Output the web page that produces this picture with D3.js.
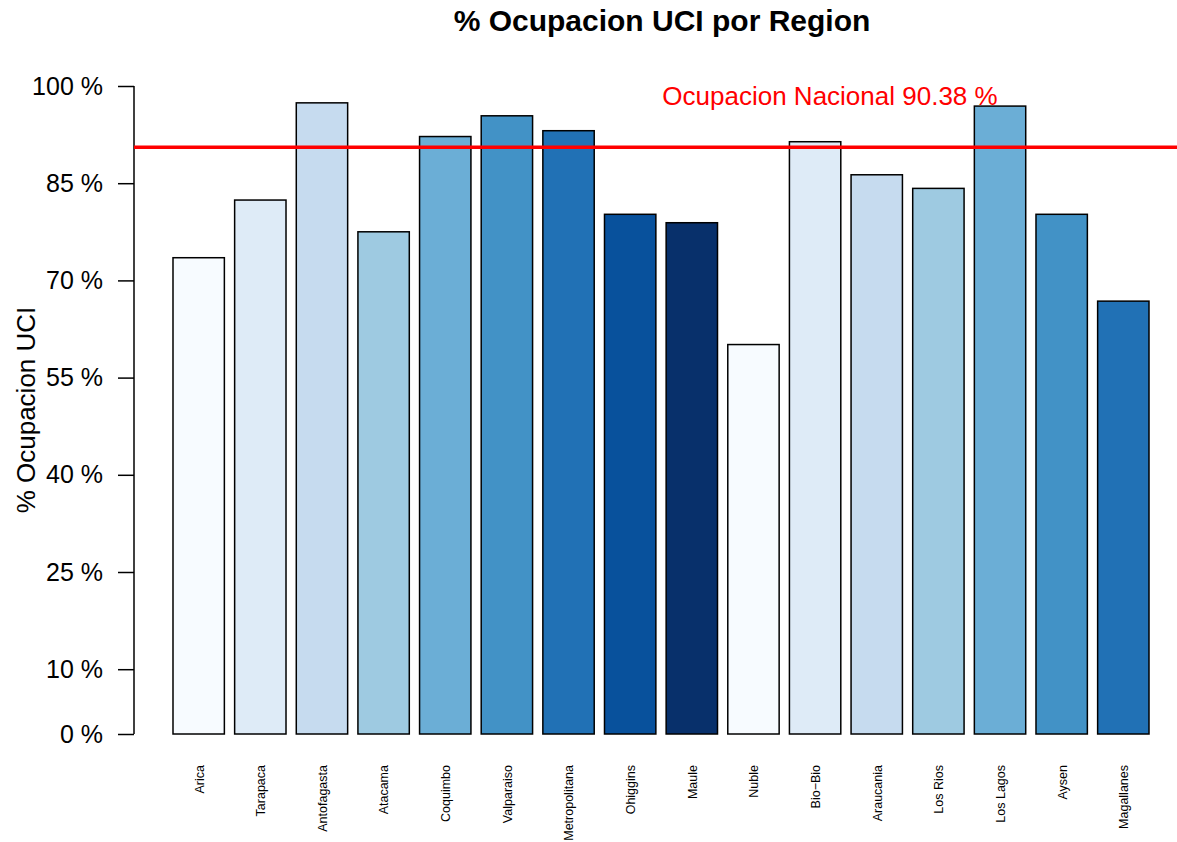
<!DOCTYPE html>
<html>
<head>
<meta charset="utf-8">
<script src="https://cdn.jsdelivr.net/npm/d3@7"></script>
<style>
    body { margin: 0; background: #fff; }
    svg { display: block; font-family: "Liberation Sans", Arial, sans-serif; }
</style>
</head>
<body>
<div class="main_content"></div>
<script>
// Regions and % ICU occupancy
const regions = ['Arica', 'Tarapaca', 'Antofagasta', 'Atacama', 'Coquimbo', 'Valparaiso',
    'Metropolitana', 'Ohiggins', 'Maule', 'Nuble', 'Bio\u2212Bio', 'Araucania',
    'Los Rios', 'Los Lagos', 'Aysen', 'Magallanes'];
const occupancy = [73.5, 82.4, 97.4, 77.5, 92.2, 95.4, 93.1, 80.2, 78.9, 60.1,
    91.4, 86.3, 84.2, 96.9, 80.2, 66.8];
const yTicks = [0, 10, 25, 40, 55, 70, 85, 100];
const nationalValue = 90.38;
// RColorBrewer Blues (9), recycled over the bars
const palette = ['#F7FBFF', '#DEEBF7', '#C6DBEF', '#9ECAE1', '#6BAED6',
    '#4292C6', '#2171B5', '#08519C', '#08306B'];

class BarChart {
    constructor() {
        this.width = 1177;
        this.height = 842;
    }

    render() {
        let div = d3.select('.main_content').append('div').classed('bar_chart', true);

        this.svg = div.append('svg')
            .attr('width', this.width)
            .attr('height', this.height);

        // Scales
        let x = d3.scaleBand()
            .domain(regions)
            .range([167.86, 1154.14])
            .paddingInner(1 / 6)
            .paddingOuter(1 / 12);

        let y = d3.scaleLinear()
            .domain([0, 100])
            .range([734, 86]);

        // Bars
        this.svg.append('g')
            .selectAll('rect')
            .data(regions)
            .join('rect')
            .attr('x', d => x(d))
            .attr('y', (d, i) => y(occupancy[i]))
            .attr('width', x.bandwidth())
            .attr('height', (d, i) => y(0) - y(occupancy[i]))
            .style('fill', (d, i) => palette[i % palette.length])
            .style('stroke', '#000')
            .style('stroke-width', 1.5);

        // Y axis
        let yAxis = d3.axisLeft(y)
            .tickValues(yTicks)
            .tickSize(16)
            .tickPadding(15)
            .tickFormat(d => d + ' %');

        let gy = this.svg.append('g')
            .attr('transform', 'translate(134,0)')
            .call(yAxis);
        gy.select('.domain').attr('d', 'M0,' + y(0) + 'V' + y(100))
            .style('stroke', '#000').style('stroke-width', 1.5);
        gy.selectAll('.tick line').style('stroke', '#000').style('stroke-width', 1.5);
        gy.selectAll('.tick text')
            .style('font-size', '25px')
            .style('font-family', '"Liberation Sans", Arial, sans-serif')
            .style('fill', '#000');

        // X labels (vertical, no axis line)
        this.svg.append('g')
            .selectAll('text')
            .data(regions)
            .join('text')
            .attr('transform', d => 'translate(' + (x(d) + x.bandwidth() / 2 + 0.5) + ',765) rotate(-90)')
            .attr('text-anchor', 'end')
            .attr('dy', '0.35em')
            .style('font-size', '12.5px')
            .text(d => d);

        // National occupancy line
        this.svg.append('line')
            .attr('x1', 134)
            .attr('x2', this.width)
            .attr('y1', y(nationalValue) - 1)
            .attr('y2', y(nationalValue) - 1)
            .style('stroke', '#ff0000')
            .style('stroke-width', 3.5);

        this.svg.append('text')
            .attr('x', 830)
            .attr('y', 105)
            .attr('text-anchor', 'middle')
            .style('font-size', '26px')
            .style('fill', '#ff0000')
            .text('Ocupacion Nacional ' + nationalValue + ' %');

        // Titles
        this.svg.append('text')
            .attr('x', 662)
            .attr('y', 31)
            .attr('text-anchor', 'middle')
            .style('font-size', '30px')
            .style('font-weight', 'bold')
            .text('% Ocupacion UCI por Region');

        this.svg.append('text')
            .attr('transform', 'translate(35,410) rotate(-90)')
            .attr('text-anchor', 'middle')
            .style('font-size', '26px')
            .text('% Ocupacion UCI');
    }
}

new BarChart().render();
</script>
</body>
</html>
